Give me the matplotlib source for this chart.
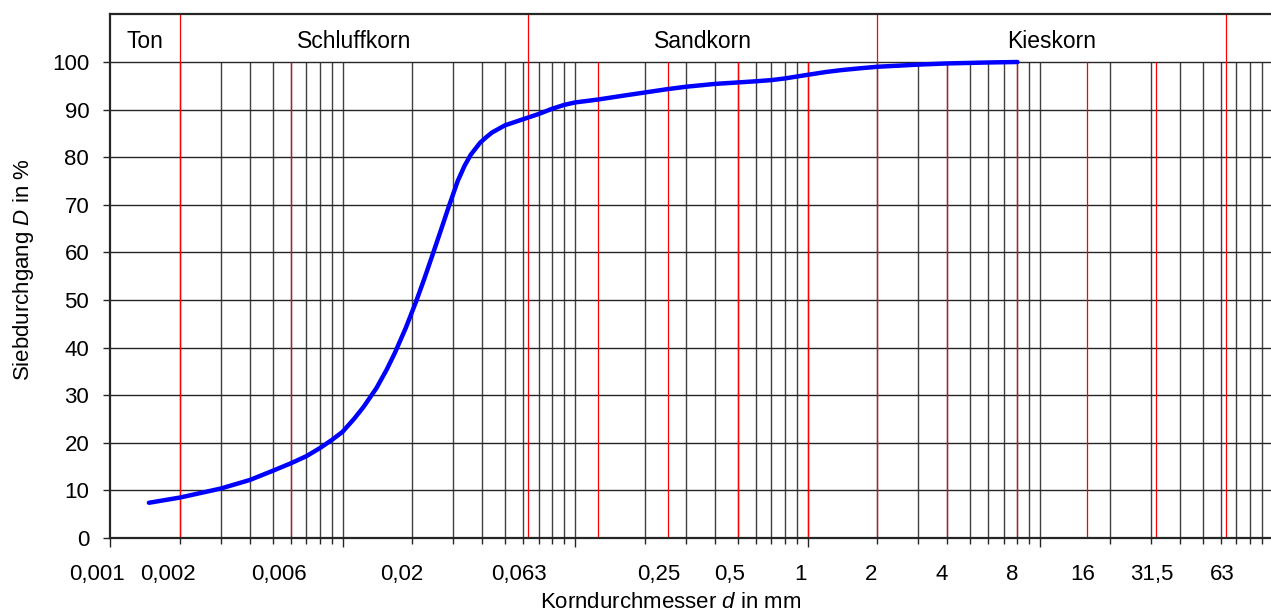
import matplotlib
matplotlib.use("Agg")
import matplotlib.pyplot as plt
import matplotlib.transforms as mtransforms
import numpy as np

plt.rcParams['font.family'] = ['Liberation Sans', 'DejaVu Sans']
plt.rcParams['mathtext.fontset'] = 'custom'
plt.rcParams['mathtext.rm'] = 'Liberation Sans'
plt.rcParams['mathtext.it'] = 'Liberation Sans:italic'

# Sieblinie
korn_d = [0.00147, 0.002, 0.003, 0.004, 0.005, 0.006, 0.007, 0.008, 0.009, 0.01,
          0.0112, 0.0123, 0.014, 0.0155, 0.0168, 0.0187, 0.0207, 0.0225, 0.0242,
          0.0263, 0.0285, 0.0313, 0.0335, 0.0356, 0.039, 0.0415, 0.044, 0.05,
          0.06, 0.07, 0.08, 0.09, 0.1, 0.125, 0.16, 0.2, 0.25, 0.3, 0.4, 0.5,
          0.6, 0.7, 0.8, 0.9, 1, 1.2, 1.4, 1.7, 2, 3, 4, 6, 8]
durchgang = [7.4, 8.5, 10.4, 12.2, 14.1, 15.7, 17.2, 18.9, 20.6, 22.3,
             25.0, 27.5, 31.5, 35.4, 38.9, 44.1, 49.6, 54.5, 59.0,
             64.2, 69.3, 75.0, 78.2, 80.5, 83.0, 84.2, 85.2, 86.7,
             88.0, 89.1, 90.2, 91.0, 91.5, 92.1, 92.9, 93.6, 94.3, 94.8, 95.4, 95.7,
             95.95, 96.2, 96.55, 96.95, 97.3, 97.9, 98.3, 98.7, 99.0, 99.45, 99.7, 99.9, 100]

# Bodenarten / Grenzen
band_names = ['Ton', 'Schluffkorn', 'Sandkorn', 'Kieskorn']
band_limits = [0.001, 0.002, 0.063, 2, 63]
sieve_sizes = [0.006, 0.125, 0.25, 0.5, 1, 4, 8, 16, 31.5]
tick_vals = [0.001, 0.002, 0.006, 0.02, 0.063, 0.25, 0.5, 1, 2, 4, 8, 16, 31.5, 63]
tick_txt = ['0,001', '0,002', '0,006', '0,02', '0,063', '0,25', '0,5', '1', '2',
            '4', '8', '16', '31,5', '63']

W, H = 1271, 612
fig = plt.figure(figsize=(W / 100, H / 100), dpi=100)
ax = fig.add_axes([110 / W, 1 - 538 / H, 1162.5 / W, 523.6 / H])
ax.set_xscale('log')
ax.set_xlim(0.001, 100)
ax.set_ylim(0, 110)

# grid: vertical lines at 1..9 x 10^k, only in the 0..100 region
grid_x = [m * 10.0 ** k for k in range(-3, 2) for m in range(1, 10)][1:]
ax.vlines(grid_x, 0, 100, color='0.25', lw=1.0, zorder=1)
ax.hlines(np.arange(10, 101, 10), 0.001, 100, color='0.15', lw=1.0, zorder=1)

# red lines
ax.vlines(sieve_sizes, 0, 100, color='red', lw=0.9, zorder=2)
ax.vlines(band_limits[1:], 0, 110, color='red', lw=0.9, zorder=2)

ax.plot(korn_d, durchgang, color='#0000ff', lw=3.2, solid_capstyle='round',
        solid_joinstyle='round', zorder=5)

for name, lo, hi in zip(band_names, band_limits[:-1], band_limits[1:]):
    ax.text(np.sqrt(lo * hi), 102.9, name, ha='center', va='baseline', fontsize=16.5)

# axes styling
for s in ['left', 'top', 'bottom']:
    ax.spines[s].set_linewidth(1.6)
    ax.spines[s].set_color('0.15')
ax.spines['right'].set_visible(False)

ax.set_yticks(np.arange(0, 101, 10))
ax.tick_params(axis='y', length=5, width=1, labelsize=16, pad=10, color='0.15')
ax.set_xticks([0.001, 0.01, 0.1, 1, 10])
ax.set_xticks(grid_x, minor=True)
ax.tick_params(axis='x', which='major', length=6.5, width=1, labelbottom=False, color='0.15')
ax.tick_params(axis='x', which='minor', length=4, width=1, labelbottom=False, color='0.15')

sec = ax.secondary_xaxis('bottom')
sec.set_xticks(tick_vals)
sec.set_xticklabels(tick_txt)
sec.set_xticks([], minor=True)
sec.tick_params(axis='x', length=0, labelsize=16, pad=19)
sec.spines['bottom'].set_visible(False)
for lab in sec.get_xticklabels():
    frac = (np.log10(float(lab.get_text().replace(',', '.'))) + 3) / 5
    dx = (-13 + 9.5 * frac) / 100
    lab.set_transform(lab.get_transform() +
                      mtransforms.ScaledTranslation(dx, 0, fig.dpi_scale_trans))

ax.set_xlabel('Korndurchmesser $d$ in mm', fontsize=16)
ax.xaxis.set_label_coords(0.4826, -0.103)
ax.set_ylabel('Siebdurchgang $D$ in %', fontsize=16)
ax.yaxis.set_label_coords(-0.064, 0.512)

fig.savefig('out.png', dpi=100)
